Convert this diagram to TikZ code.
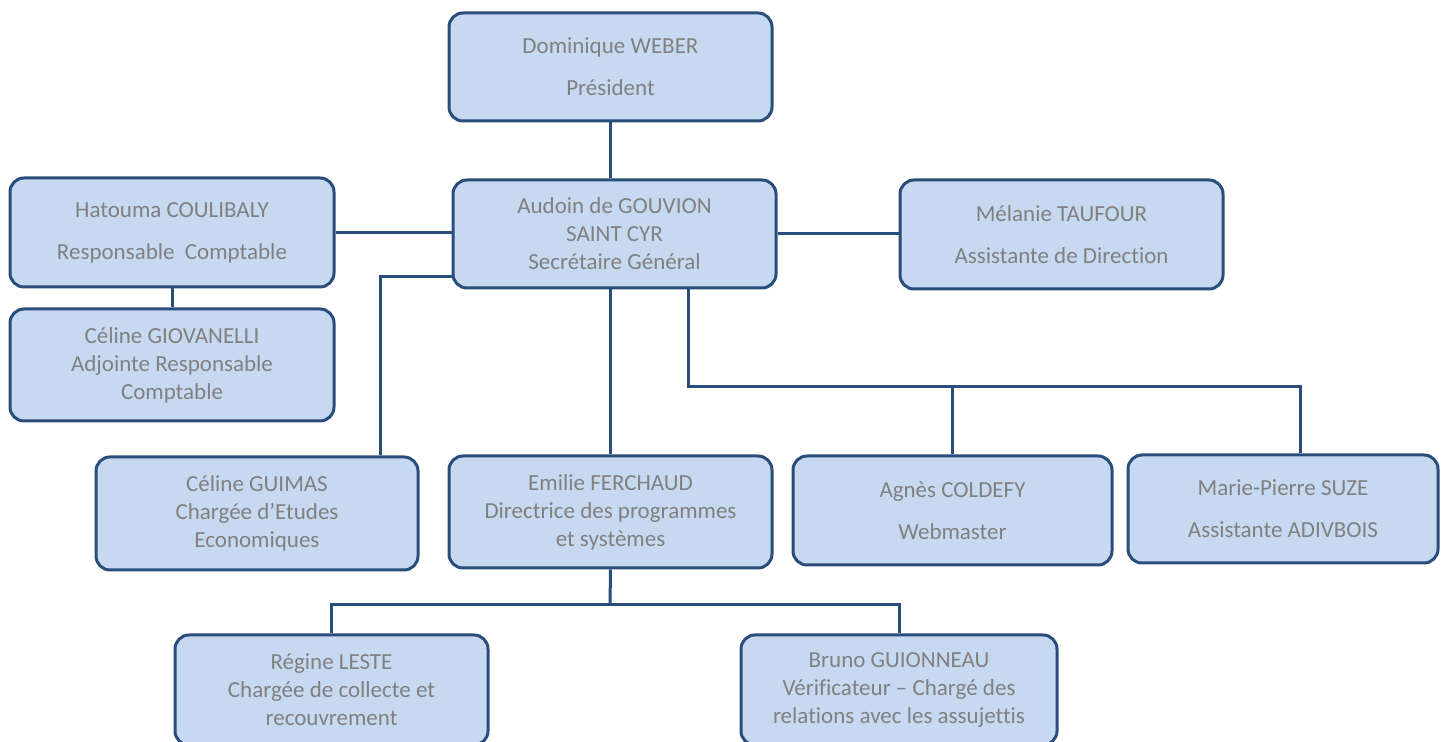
\documentclass[tikz,border=0pt]{standalone}
\usepackage{fontspec}
\setmainfont{Carlito}[Ligatures={NoCommon}]
\usetikzlibrary{calc}
\definecolor{boxfill}{HTML}{C6D9F1}
\definecolor{boxline}{HTML}{2A4D7C}
\definecolor{boxtext}{HTML}{808080}
\tikzstyle{card} = [rectangle, rounded corners=7pt, line width=1.5pt, draw=boxline, fill=boxfill,
	text=boxtext, align=center, font=\fontsize{11.5}{14}\selectfont, inner sep=0pt]
\tikzstyle{link} = [line width=1.5pt, draw=boxline]
\newcommand{\gap}{\\[7pt]}

\begin{document}
\begin{tikzpicture}[x=0.5pt, y=-0.5pt]
			\clip (0,0) rectangle (1446,742);
			\fill[white] (0,0) rectangle (1446,742);
			% top
			\node [card, minimum width=161.5pt, minimum height=54pt] (weber) at (610.5,67) {Dominique WEBER\gap Président};
			\node [card, minimum width=161.5pt, minimum height=54pt] (sg) at (614.5,234) {Audoin de GOUVION\\SAINT CYR\\Secrétaire Général};
			\node [card, minimum width=162pt, minimum height=54.5pt] (coul) at (172,232.5) {Hatouma COULIBALY\gap Responsable~ Comptable};
			\node [card, minimum width=161.5pt, minimum height=54.5pt] (tauf) at (1061.5,234.5) {Mélanie TAUFOUR\gap Assistante de Direction};
			\node [card, minimum width=162pt, minimum height=56pt] (giov) at (172,365) {Céline GIOVANELLI\\Adjointe Responsable\\Comptable};
			% middle row
			\node [card, minimum width=161pt, minimum height=56.5pt] (guimas) at (257,513.5) {Céline GUIMAS\\Chargée d’Etudes\\Economiques};
			\node [card, minimum width=161.5pt, minimum height=56pt] (fer) at (610.5,512) {Emilie FERCHAUD\\Directrice des programmes\\et systèmes};
			\node [card, minimum width=159.5pt, minimum height=54.5pt] (coldefy) at (952.5,510.5) {Agnès COLDEFY\gap Webmaster};
			\node [card, minimum width=155pt, minimum height=54pt] (suze) at (1283,509) {Marie-Pierre SUZE\gap Assistante ADIVBOIS};
			% bottom row
			\node [card, minimum width=156.5pt, minimum height=55pt] (leste) at (331.5,690) {Régine LESTE\\Chargée de collecte et\\recouvrement};
			\node [card, minimum width=158pt, minimum height=55pt] (guio) at (899,690) {Bruno GUIONNEAU\\Vérificateur – Chargé des\\relations avec les assujettis};
			% connectors
			\coordinate (gk) at (380,277);
			\coordinate (rb) at (688,387);
			\coordinate (sz) at (1300,387);
			\coordinate (fb) at (610,605);
			\draw[link] (weber.south) -- (weber.south |- sg.north);
			\draw[link] (coul.east) -- (coul.east -| sg.west);
			\draw[link] (sg.east) -- (sg.east -| tauf.west);
			\draw[link] (coul.south) -- (giov.north);
			\draw[link] (sg.west |- gk) -- (gk) -- (gk |- guimas.north);
			\draw[link] (fer.north |- sg.south) -- (fer.north);
			\draw[link] (rb |- sg.south) -- (rb) -- (sz) -- (sz |- suze.north);
			\draw[link] (rb -| coldefy.north) -- (coldefy.north);
			\draw[link] (fer.south) -- (fb);
			\draw[link] (leste.north) |- (fb) -| (guio.north);
		\end{tikzpicture}
\end{document}
